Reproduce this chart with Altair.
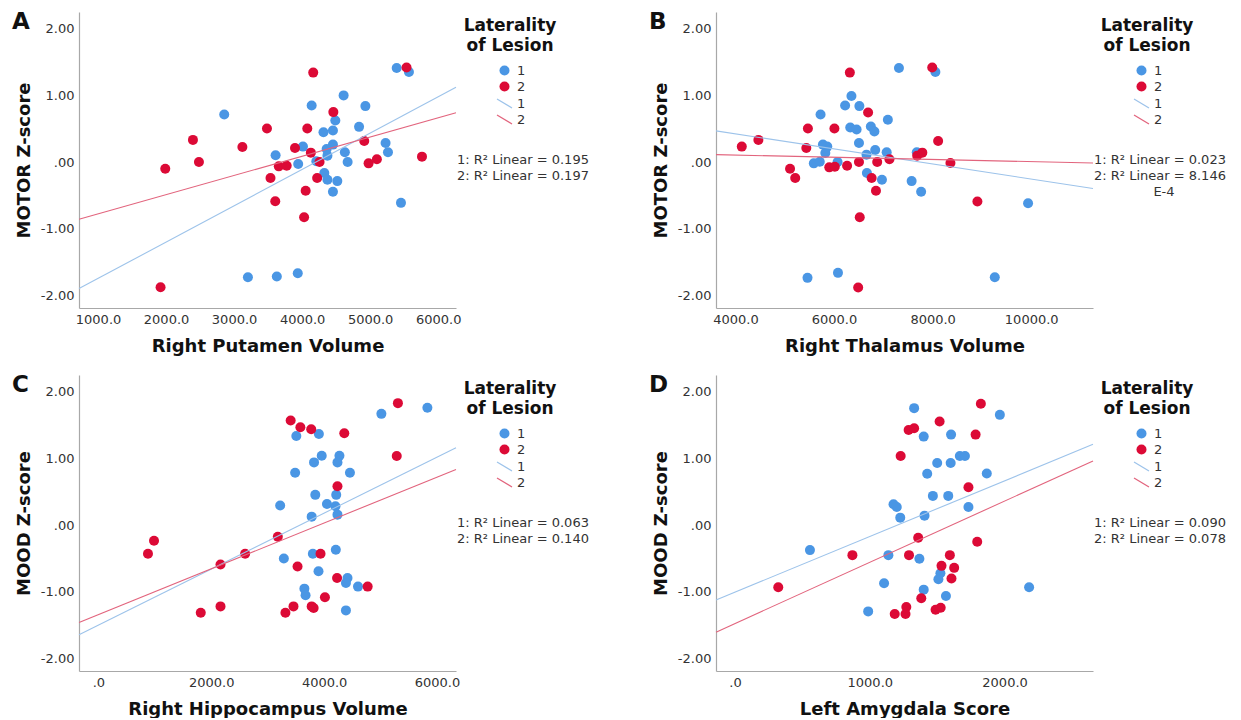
import altair as alt
import pandas as pd

# ---------------- data ----------------
# Panel A: Right Putamen Volume vs MOTOR Z-score
a_blue_x = [2855, 3203, 3628, 3936, 3610, 3942, 4012, 4140, 4314, 4453, 4488, 4453, 4360, 4372, 4209,
            4326, 4372, 4517, 4453, 4610, 4628, 4669, 4837, 4930, 5227, 5262, 5390, 5570, 5453]
a_blue_y = [0.71, -1.72, -1.71, -1.66, 0.10, -0.03, 0.23, 0.845, 0.445, 0.47, 0.62, 0.26, 0.195, 0.095, 0.01,
            -0.165, -0.265, -0.285, -0.445, 0.995, 0.145, 0.0, 0.525, 0.835, 0.285, 0.145, 1.405, 1.345, -0.61]
a_red_x = [1919, 1988, 2395, 2483, 3122, 3483, 3535, 3605, 3657, 3773, 3895, 4076, 4052, 4029, 4128,
           4163, 4221, 4256, 4459, 4913, 4977, 5099, 5535, 5762]
a_red_y = [-1.87, -0.10, 0.33, 0.0, 0.225, 0.5, -0.24, -0.585, -0.065, -0.055, 0.21, 0.5, -0.43, -0.825, 0.14,
           1.335, -0.24, 0.0, 0.745, 0.315, -0.02, 0.04, 1.41, 0.08]
a_fit_x = [720, 6262]
a_fit_blue = [-1.89, 1.115]
a_fit_red = [-0.855, 0.735]
a_xdomain = [720, 6262]
a_xticks = [1000, 2000, 3000, 4000, 5000, 6000]
a_r2 = ["1: R\u00b2 Linear = 0.195", "2: R\u00b2 Linear = 0.197"]

# Panel B: Right Thalamus Volume vs MOTOR Z-score
b_blue_x = [5462, 6080, 9261, 9936, 7317, 8056, 6353, 6225, 6514, 5727, 7092, 6329, 6458, 6747, 6819,
            6506, 5775, 5863, 5823, 5590, 5711, 6072, 6659, 6835, 7068, 6667, 6972, 7574, 7767, 7679]
b_blue_y = [-1.73, -1.655, -1.72, -0.615, 1.405, 1.345, 0.985, 0.845, 0.835, 0.71, 0.63, 0.515, 0.485, 0.53, 0.455,
            0.285, 0.26, 0.23, 0.135, -0.02, 0.005, 0.0, 0.11, 0.18, 0.145, -0.165, -0.265, -0.285, -0.445, 0.145]
b_red_x = [4129, 4466, 5108, 5213, 5438, 5470, 5904, 6016, 6008, 6265, 6321, 6506, 6522, 6490, 6691,
           6763, 6851, 6876, 7124, 7687, 7791, 7992, 8112, 8361, 8908]
b_red_y = [0.23, 0.33, -0.10, -0.24, 0.21, 0.5, -0.08, -0.07, 0.5, -0.055, 1.335, 0.0, -0.825, -1.875, 0.74,
           -0.24, -0.43, 0.0, 0.04, 0.095, 0.14, 1.41, 0.315, -0.015, -0.59]
b_fit_x = [3606, 11253]
b_fit_blue = [0.465, -0.395]
b_fit_red = [0.11, -0.015]
b_xdomain = [3606, 11253]
b_xticks = [4000, 6000, 8000, 10000]
b_r2 = ["1: R\u00b2 Linear = 0.023", "2: R\u00b2 Linear = 8.146", "E-4"]

# Panel C: Right Hippocampus Volume vs MOOD Z-score
c_blue_x = [5829, 5014, 3507, 3907, 3957, 3821, 4271, 4236, 3486, 4457, 3843, 4214, 3221, 4050, 4200,
            3779, 4236, 3286, 3800, 4207, 3900, 3650, 3671, 4414, 4386, 4600, 4386]
c_blue_y = [1.75, 1.66, 1.33, 1.36, 1.035, 0.935, 1.035, 0.935, 0.78, 0.78, 0.45, 0.45, 0.29, 0.315, 0.28,
            0.125, 0.155, -0.50, -0.43, -0.37, -0.69, -0.95, -1.05, -0.79, -0.865, -0.92, -1.275]
c_red_x = [5307, 5286, 3407, 3579, 3771, 4357, 4236, 3179, 986, 879, 2164, 2600, 3529, 3936, 4229,
           4771, 1814, 2164, 3314, 3457, 3779, 3814, 4014]
c_red_y = [1.82, 1.03, 1.56, 1.46, 1.43, 1.37, 0.58, -0.175, -0.235, -0.43, -0.59, -0.43, -0.62, -0.43, -0.79,
           -0.92, -1.31, -1.215, -1.31, -1.215, -1.215, -1.24, -1.08]
c_fit_x = [-343, 6336]
c_fit_blue = [-1.64, 1.155]
c_fit_red = [-1.457, 0.83]
c_xdomain = [-343, 6336]
c_xticks = [0, 2000, 4000, 6000]
c_r2 = ["1: R\u00b2 Linear = 0.063", "2: R\u00b2 Linear = 0.140"]

# Panel D: Left Amygdala Score vs MOOD Z-score
d_blue_x = [1329, 1965, 1400, 1603, 1668, 1706, 1500, 1600, 1426, 1868, 1468, 1582, 1176, 1200, 1732,
            1226, 1406, 556, 1138, 1368, 1524, 1509, 1106, 1400, 2182, 1565, 988]
d_blue_y = [1.745, 1.645, 1.32, 1.35, 1.03, 1.03, 0.925, 0.925, 0.765, 0.77, 0.435, 0.435, 0.31, 0.27, 0.27,
            0.11, 0.14, -0.375, -0.45, -0.505, -0.72, -0.81, -0.87, -0.965, -0.93, -1.06, -1.29]
d_red_x = [1824, 1518, 1288, 1329, 1785, 1229, 1732, 1359, 1797, 871, 1291, 1594, 1532, 1626, 1606,
           321, 1382, 1271, 1265, 1185, 1488, 1526]
d_red_y = [1.81, 1.545, 1.42, 1.445, 1.35, 1.03, 0.565, -0.19, -0.25, -0.45, -0.45, -0.45, -0.61, -0.64, -0.80,
           -0.93, -1.095, -1.225, -1.33, -1.33, -1.265, -1.235]
d_fit_x = [-141, 2656]
d_fit_blue = [-1.12, 1.205]
d_fit_red = [-1.60, 0.957]
d_xdomain = [-141, 2656]
d_xticks = [0, 1000, 2000]
d_r2 = ["1: R\u00b2 Linear = 0.090", "2: R\u00b2 Linear = 0.078"]

groups = ["1", "2"]
fit_groups = ["L1", "L2"]   # fit-line series (shown as "1", "2" in the legend)
y_domain = [-2.18, 2.24]
y_ticks = [-2, -1, 0, 1, 2]
legend_title = "Laterality\nof Lesion"

# ---------------- styling ----------------
PT_BLUE, PT_RED = "#4A96E4", "#DC0A36"
LN_BLUE, LN_RED = "#9DC3EA", "#E2647D"
W, H = 377, 296
FONT = "DejaVu Sans"


def panel(letter, bx, by, rx, ry, fx, fb, fr, xdom, xticks, xtitle, ytitle, r2):
    pts = pd.DataFrame({"x": bx + rx, "y": by + ry,
                        "g": [groups[0]] * len(bx) + [groups[1]] * len(rx)})
    fit = pd.DataFrame({"x": fx + fx, "y": fb + fr,
                        "fitgroup": [fit_groups[0]] * 2 + [fit_groups[1]] * 2})

    xenc = alt.X("x:Q",
                 scale=alt.Scale(domain=xdom, nice=False, zero=False),
                 axis=alt.Axis(values=xticks, title=xtitle,
                               labelExpr="datum.value == 0 ? '.0' : (datum.value < 0 ? '-' : '') + format(abs(datum.value), '.1f')"))
    yenc = alt.Y("y:Q",
                 scale=alt.Scale(domain=y_domain, nice=False, zero=False),
                 axis=alt.Axis(values=y_ticks, title=ytitle,
                               labelExpr="datum.value == 0 ? '.00' : (datum.value < 0 ? '-' : '') + format(abs(datum.value), '.2f')"))

    points = alt.Chart(pts).mark_circle(size=100, opacity=1).encode(
        x=xenc, y=yenc,
        fill=alt.Fill("g:N", scale=alt.Scale(domain=groups, range=[PT_BLUE, PT_RED]),
                      legend=alt.Legend(title=None, orient="none", legendX=419, legendY=52,
                                        symbolType="circle", symbolSize=100, symbolStrokeWidth=0,
                                        labelOffset=6, rowPadding=2, padding=0)),
    )
    lines = alt.Chart(fit).mark_line(strokeWidth=1.1).encode(
        x="x:Q", y="y:Q", detail="fitgroup:N",
        stroke=alt.Stroke("fitgroup:N", scale=alt.Scale(domain=fit_groups, range=[LN_BLUE, LN_RED]),
                          legend=alt.Legend(title=None, orient="none", legendX=417, legendY=83,
                                            symbolType="M-1,-0.6L1,0.6", symbolSize=225,
                                            symbolStrokeWidth=1.3, labelOffset=4, rowPadding=0,
                                            padding=0, labelExpr="substring(datum.label, 1)")),
    )

    letter_t = alt.Chart(pd.DataFrame({"t": [letter]})).mark_text(
        font=FONT, fontSize=23, fontWeight="bold", align="left", baseline="top", color="#111"
    ).encode(text="t:N", x=alt.value(-67), y=alt.value(-1))

    ltitle = alt.Chart(pd.DataFrame({"t": [legend_title]})).mark_text(
        font=FONT, fontSize=17, fontWeight="bold", align="center", baseline="top",
        lineBreak="\n", lineHeight=20, color="#111"
    ).encode(text="t:N", x=alt.value(431), y=alt.value(6))

    r2_layers = []
    for i, t in enumerate(r2):
        is_exp = (i == 2)
        r2_layers.append(
            alt.Chart(pd.DataFrame({"t": [t]})).mark_text(
                font=FONT, fontSize=13, align="center" if is_exp else "left",
                baseline="middle", color="#333"
            ).encode(text="t:N", x=alt.value(448 if is_exp else 378), y=alt.value(148 + 16 * i))
        )

    return alt.layer(points, lines, letter_t, ltitle, *r2_layers).properties(width=W, height=H)


pa = panel("A", a_blue_x, a_blue_y, a_red_x, a_red_y, a_fit_x, a_fit_blue, a_fit_red,
           a_xdomain, a_xticks, "Right Putamen Volume", "MOTOR Z-score", a_r2)
pb = panel("B", b_blue_x, b_blue_y, b_red_x, b_red_y, b_fit_x, b_fit_blue, b_fit_red,
           b_xdomain, b_xticks, "Right Thalamus Volume", "MOTOR Z-score", b_r2)
pc = panel("C", c_blue_x, c_blue_y, c_red_x, c_red_y, c_fit_x, c_fit_blue, c_fit_red,
           c_xdomain, c_xticks, "Right Hippocampus Volume", "MOOD Z-score", c_r2)
pd_ = panel("D", d_blue_x, d_blue_y, d_red_x, d_red_y, d_fit_x, d_fit_blue, d_fit_red,
            d_xdomain, d_xticks, "Left Amygdala Score", "MOOD Z-score", d_r2)

chart = alt.concat(pa, pb, pc, pd_, columns=2, spacing={"row": 67, "column": 260}, bounds="flush").resolve_legend(
    fill="independent", stroke="independent"
).resolve_scale(x="independent", y="independent").properties(
    padding={"left": 4, "top": 3, "right": 0, "bottom": 0}
).configure_view(strokeWidth=0).configure_axis(
    grid=False, ticks=False, tickSize=0, domainColor="#A8A8A8", domainWidth=1.2,
    labelFont=FONT, labelFontSize=13, labelColor="#333", labelPadding=5,
    titleFont=FONT, titleFontSize=18, titleFontWeight="bold", titleColor="#111",
).configure_axisX(titlePadding=11).configure_axisY(titlePadding=7).configure_legend(
    labelFont=FONT, labelFontSize=13, labelColor="#333"
)

chart.save("out.html", embed_options={"renderer": "svg", "actions": False})
